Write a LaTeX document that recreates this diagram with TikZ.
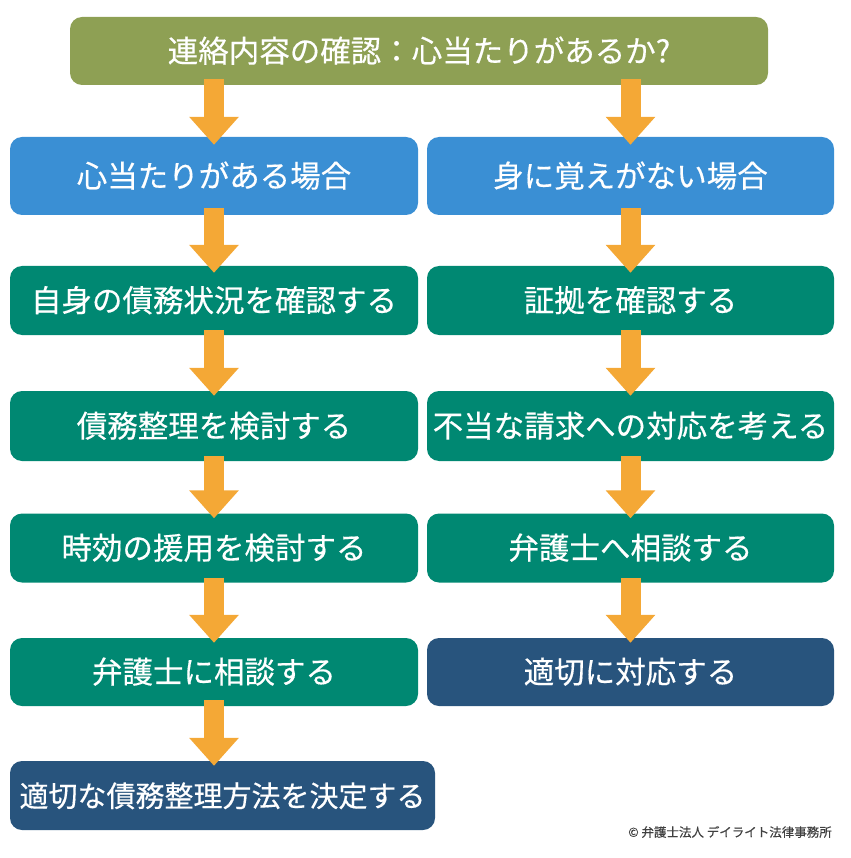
\documentclass[tikz,border=0pt]{standalone}
\usepackage{fontspec}
\setmainfont{Noto Sans CJK JP}
\newfontfamily\boxfont[FakeBold=0.4]{Noto Sans CJK JP}
\usepackage{xcolor}
\usepackage{tikz}
\usetikzlibrary{positioning, arrows.meta}
\definecolor{pastelolive}{RGB}{142,160,84}
\definecolor{pastelblue}{RGB}{58,143,212}
\definecolor{deepteal}{RGB}{0,136,114}
\definecolor{deepnavy}{RGB}{40,84,125}
\definecolor{flowamber}{RGB}{244,168,54}

\begin{document}
\begin{tikzpicture}[x=1pt, y=-1pt]
			\useasboundingbox (0,0) rectangle (850,858);
			\tikzstyle{task}=[rectangle, rounded corners=12pt, draw=none, text=white, inner sep=0pt, minimum height=69pt, text height=26pt, text depth=3.5pt, font=\boxfont\fontsize{30.5}{36}\selectfont]
			\tikzstyle{taskl}=[task, minimum width=408pt]
			\tikzstyle{taskr}=[task, minimum width=407pt]
			\tikzstyle{flow}=[draw=flowamber, line width=20pt, -{Triangle[width=48pt, length=28pt]}]
			%%
			\node (t01) at (419, 51) [task, fill=pastelolive, minimum width=698pt, minimum height=68pt] {連絡内容の確認：心当たりがあるか?};
			
			\node (t11) at (214, 176) [taskl, fill=pastelblue, minimum height=78pt] {心当たりがある場合};
			\node (t12) at (630.5, 176) [taskr, fill=pastelblue, minimum height=78pt] {身に覚えがない場合};
			\node (t21) at (214, 300.5) [taskl, fill=deepteal] {自身の債務状況を確認する};
			\node (t22) at (630.5, 300.5) [taskr, fill=deepteal] {証拠を確認する};
			\node (t31) at (214, 426) [taskl, fill=deepteal, minimum height=70pt] {債務整理を検討する};
			\node (t32) at (630.5, 426) [taskr, fill=deepteal, minimum height=70pt] {不当な請求への対応を考える};
			\node (t41) at (214, 548) [taskl, fill=deepteal] {時効の援用を検討する};
			\node (t42) at (630.5, 548) [taskr, fill=deepteal] {弁護士へ相談する};
			\node (t51) at (214, 672) [taskl, fill=deepteal, minimum height=68pt] {弁護士に相談する};
			\node (t52) at (630.5, 672) [taskr, fill=deepnavy, minimum height=68pt] {適切に対応する};
			\node (t61) at (222.5, 795.5) [task, fill=deepnavy, minimum width=425pt, font=\boxfont\fontsize{29}{34}\selectfont] {適切な債務整理方法を決定する};
			
			\draw [flow] ([yshift=6pt]t11.north |- t01.south) -- ([yshift=-8pt]t11.north);
			\draw [flow] ([yshift=6pt]t12.north |- t01.south) -- ([yshift=-8pt]t12.north);
			\draw [flow] ([yshift=7pt]t11.south) -- ([yshift=-7pt]t21.north);
			\draw [flow] ([yshift=7pt]t12.south) -- ([yshift=-7pt]t22.north);
			\draw [flow] ([yshift=5pt]t21.south) -- ([yshift=-5pt]t31.north);
			\draw [flow] ([yshift=5pt]t22.south) -- ([yshift=-5pt]t32.north);
			\draw [flow] ([yshift=5pt]t31.south) -- ([yshift=-5pt]t41.north);
			\draw [flow] ([yshift=5pt]t32.south) -- ([yshift=-5pt]t42.north);
			\draw [flow] ([yshift=5pt]t41.south) -- ([yshift=-5pt]t51.north);
			\draw [flow] ([yshift=5pt]t42.south) -- ([yshift=-5pt]t52.north);
			\draw [flow] ([yshift=6pt]t51.south) -- ([yshift=-5pt]t51.south |- t61.north);
			
			\node (c01) at (832, 832) [anchor=east, text=black!75, inner sep=0pt, font=\boxfont\fontsize{12.5}{14}\selectfont] {© 弁護士法人 デイライト法律事務所};
\end{tikzpicture}
\end{document}
